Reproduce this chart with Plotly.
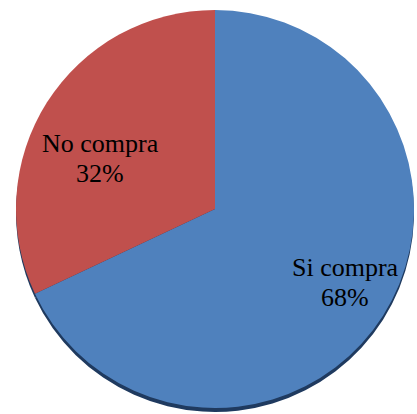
import plotly.graph_objects as go

# Purchase intention shares
labels = ["Si compra", "No compra"]
values = [68, 32]
colors = ["#4F81BD", "#C0504D"]
shadow_color = "#1F3A5F"

W, H = 417, 414
cx, cy, r = 215, 209, 199   # pie centre (px from top-left) and radius
shadow_dy = 4

def domain(cx, cy, r):
    return dict(
        x=[(cx - r) / W, (cx + r) / W],
        y=[(H - cy - r) / H, (H - cy + r) / H],
    )

fig = go.Figure()

# drop shadow underneath the pie
fig.add_trace(go.Pie(
    labels=labels, values=values, sort=False, direction="clockwise", rotation=0,
    marker=dict(colors=[shadow_color] * len(values), line=dict(width=0)),
    textinfo="none", hoverinfo="skip", showlegend=False,
    domain=domain(cx, cy + shadow_dy, r),
))

fig.add_trace(go.Pie(
    labels=labels, values=values, sort=False, direction="clockwise", rotation=0,
    marker=dict(colors=colors, line=dict(width=0)),
    textinfo="none", hoverinfo="skip", showlegend=False,
    domain=domain(cx, cy, r),
))

# slice labels: name and percentage on two lines
total = sum(values)
label_pos = {"No compra": (100, 143, 173), "Si compra": (345, 267, 297)}
font = dict(family="Liberation Serif", size=26, color="#000000")
for lab, val in zip(labels, values):
    x, y1, y2 = label_pos[lab]
    fig.add_annotation(x=x / W, y=1 - y1 / H, xref="paper", yref="paper",
                       text=lab, showarrow=False, font=font,
                       xanchor="center", yanchor="middle")
    fig.add_annotation(x=x / W, y=1 - y2 / H, xref="paper", yref="paper",
                       text=f"{round(100 * val / total)}%", showarrow=False, font=font,
                       xanchor="center", yanchor="middle")

fig.update_layout(
    width=W, height=H,
    margin=dict(l=0, r=0, t=0, b=0),
    paper_bgcolor="#FFFFFF", plot_bgcolor="#FFFFFF",
    showlegend=False,
)

fig.write_html("out.html")
